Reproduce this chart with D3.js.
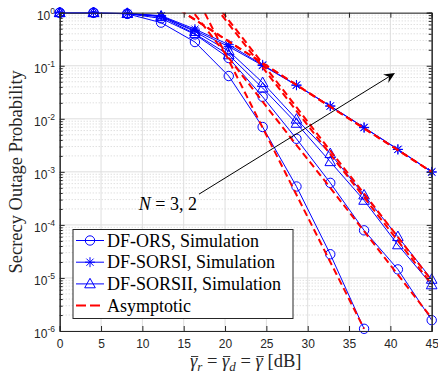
<!DOCTYPE html>
<html>
<head>
<meta charset="utf-8">
<script src="https://cdn.jsdelivr.net/npm/d3@7"></script>
<style>
  body { margin: 0; background: #fff; }
  svg { display: block; }
</style>
</head>
<body>
<script>
// average SNR points (dB) where the simulation was run
var snr = [0, 4.09, 8.18, 12.27, 16.36, 20.45, 24.55, 28.64, 32.73, 36.82, 40.91, 45];

// simulation
var orsN3    = [1, 1, 0.95, 0.65, 0.28, 0.064, 0.007, 5.3e-4, 2.8e-5, 1.1e-6];
var orsN2    = [1, 1, 0.96, 0.78, 0.39, 0.14, 0.026, 4.2e-3, 6.2e-4, 7.9e-5, 1.45e-5, 1.6e-6];
var sorsIN3  = [1, 1, 0.96, 0.86, 0.46, 0.23, 0.101, 0.0428, 0.0173, 0.0068, 0.00264, 0.00099];
var sorsIN2  = [1, 1, 0.97, 0.88, 0.49, 0.25, 0.104, 0.0434, 0.0175, 0.0069, 0.00266, 0.001];
var sorsIIN3 = [1, 1, 0.96, 0.84, 0.40, 0.16, 0.038, 0.0082, 0.00155, 2.9e-4, 4.2e-5, 7.4e-6];
var sorsIIN2 = [1, 1, 0.97, 0.86, 0.44, 0.19, 0.048, 0.0098, 0.0022, 3.65e-4, 6.0e-5, 9.4e-6];

// asymptotic curves (null = not plotted)
var asymOrsN3    = [null, null, null, null, 2.3, 0.126, 6.8e-3, 3.7e-4, 2.0e-5, 1.1e-6, null, null];
var asymOrsN2    = [null, null, null, 6.2, 0.93, 0.14, 0.021, 3.2e-3, 5.0e-4, 7.6e-5, 1.15e-5, 1.74e-6];
var asymSorsIN3  = [null, null, null, 1.89, 0.74, 0.287, 0.112, 0.0435, 0.0169, 6.6e-3, 2.57e-3, 1.0e-3];
var asymSorsIN2  = [null, null, null, 1.89, 0.74, 0.287, 0.112, 0.0435, 0.0169, 6.6e-3, 2.57e-3, 1.0e-3];
var asymSorsIIN3 = [null, null, null, null, 4.1, 0.61, 0.093, 0.0141, 2.15e-3, 3.3e-4, 5.0e-5, 7.6e-6];
var asymSorsIIN2 = [null, null, null, null, 4.8, 0.72, 0.11, 0.0166, 2.5e-3, 3.9e-4, 5.9e-5, 8.9e-6];

var xTicks = [0, 5, 10, 15, 20, 25, 30, 35, 40, 45];
var yExps = [0, -1, -2, -3, -4, -5, -6];
var legendLabels = ["DF-ORS, Simulation", "DF-SORSI, Simulation", "DF-SORSII, Simulation", "Asymptotic"];

// annotation "N = 3, 2" with arrow, in data units
var arrowFrom = [16.85, 3.8e-4];
var arrowTo = [40.56, 0.073];
var noteAt = [16.6, 1.9e-4];

var W = 438, H = 378;
var L = 59.7, R = 431.7, T = 12.7, B = 331;
var axisCol = "#262626", gridCol = "#dedede";
var blue = "#0000ff", red = "#ff0000";
var serif = "'Liberation Serif', 'Times New Roman', serif";
var sans = "'Liberation Sans', Arial, sans-serif";

var x = d3.scaleLinear().domain([0, 45]).range([L, R]);
var y = d3.scaleLog().domain([1e-6, 1]).range([B, T]);

var svg = d3.select("body").append("svg").attr("width", W).attr("height", H);
svg.append("rect").attr("width", W).attr("height", H).attr("fill", "#fff");

svg.append("clipPath").attr("id", "clip")
  .append("rect").attr("x", L).attr("y", T).attr("width", R - L).attr("height", B - T);

// grid
var minorVals = [];
yExps.forEach(function(e) {
  if (e == 0) return;
  for (var k = 2; k <= 9; k++) minorVals.push(k * Math.pow(10, e));
});
var grid = svg.append("g");
grid.selectAll(".ymin").data(minorVals).enter().append("line")
  .attr("x1", L).attr("x2", R)
  .attr("y1", function(d) { return y(d); }).attr("y2", function(d) { return y(d); })
  .attr("stroke", "#d2d2d2").attr("stroke-width", 1).attr("stroke-dasharray", "1,2");
grid.selectAll(".ymaj").data(yExps).enter().append("line")
  .attr("x1", L).attr("x2", R)
  .attr("y1", function(d) { return y(Math.pow(10, d)); }).attr("y2", function(d) { return y(Math.pow(10, d)); })
  .attr("stroke", gridCol).attr("stroke-width", 1);
grid.selectAll(".xmaj").data(xTicks).enter().append("line")
  .attr("y1", T).attr("y2", B)
  .attr("x1", function(d) { return x(d); }).attr("x2", function(d) { return x(d); })
  .attr("stroke", gridCol).attr("stroke-width", 1);

// data
function pts(vals) {
  return vals.map(function(v, i) { return [snr[i], v]; });
}
var line = d3.line()
  .defined(function(d) { return d[1] != null; })
  .x(function(d) { return x(d[0]); })
  .y(function(d) { return y(d[1]); });

var sims = [
  { vals: orsN3, mk: "o" }, { vals: orsN2, mk: "o" },
  { vals: sorsIN3, mk: "*" }, { vals: sorsIN2, mk: "*" },
  { vals: sorsIIN3, mk: "^" }, { vals: sorsIIN2, mk: "^" }
];
var asyms = [asymOrsN3, asymOrsN2, asymSorsIN3, asymSorsIN2, asymSorsIIN3, asymSorsIIN2];

function drawMarker(g, mk, cx, cy) {
  if (mk == "o") {
    g.append("circle").attr("cx", cx).attr("cy", cy).attr("r", 4.7)
      .attr("fill", "none").attr("stroke", blue).attr("stroke-width", 1);
  } else if (mk == "^") {
    g.append("path")
      .attr("d", "M" + cx + "," + (cy - 5.6) + "L" + (cx + 5.3) + "," + (cy + 3.9) + "L" + (cx - 5.3) + "," + (cy + 3.9) + "Z")
      .attr("fill", "none").attr("stroke", blue).attr("stroke-width", 1);
  } else {
    var s = 5, q = 3.6;
    g.append("path")
      .attr("d", "M" + (cx - s) + "," + cy + "H" + (cx + s) +
        "M" + cx + "," + (cy - s) + "V" + (cy + s) +
        "M" + (cx - q) + "," + (cy - q) + "L" + (cx + q) + "," + (cy + q) +
        "M" + (cx - q) + "," + (cy + q) + "L" + (cx + q) + "," + (cy - q))
      .attr("fill", "none").attr("stroke", blue).attr("stroke-width", 1);
  }
}

var plot = svg.append("g");
sims.forEach(function(s) {
  plot.append("path").datum(pts(s.vals)).attr("d", line)
    .attr("clip-path", "url(#clip)")
    .attr("fill", "none").attr("stroke", blue).attr("stroke-width", 1);
});
sims.forEach(function(s) {
  var g = plot.append("g");
  s.vals.forEach(function(v, i) { drawMarker(g, s.mk, x(snr[i]), y(v)); });
});
asyms.forEach(function(a) {
  plot.append("path").datum(pts(a)).attr("d", line)
    .attr("clip-path", "url(#clip)")
    .attr("fill", "none").attr("stroke", red).attr("stroke-width", 2)
    .attr("stroke-dasharray", "7,4");
});

// axes box and ticks
var ax = svg.append("g").attr("font-family", sans).attr("font-size", 12);
ax.append("g").attr("transform", "translate(0," + B + ")")
  .call(d3.axisBottom(x).tickValues(xTicks).tickSize(-5).tickPadding(8).tickFormat(d3.format("d")));
ax.append("g").attr("transform", "translate(0," + T + ")")
  .call(d3.axisTop(x).tickValues(xTicks).tickSize(-5).tickFormat(""));
ax.append("g").attr("transform", "translate(" + L + ",0)")
  .call(d3.axisLeft(y).tickValues(minorVals).tickSize(-3).tickFormat(""));
ax.append("g").attr("transform", "translate(" + R + ",0)")
  .call(d3.axisRight(y).tickValues(minorVals).tickSize(-3).tickFormat(""));
ax.append("g").attr("transform", "translate(" + R + ",0)")
  .call(d3.axisRight(y).tickValues(yExps.map(function(e) { return Math.pow(10, e); })).tickSize(-5).tickFormat(""));
var yl = ax.append("g").attr("transform", "translate(" + L + ",0)")
  .call(d3.axisLeft(y).tickValues(yExps.map(function(e) { return Math.pow(10, e); })).tickSize(-5).tickFormat(""));
ax.selectAll(".domain").attr("stroke", axisCol);
ax.selectAll(".tick line").attr("stroke", axisCol);
ax.selectAll(".tick text").attr("fill", axisCol).attr("font-family", sans).attr("font-size", 12);

// y tick labels 10^e
yExps.forEach(function(e) {
  var t = svg.append("text").attr("x", 55).attr("y", y(Math.pow(10, e)) + 7)
    .attr("text-anchor", "end").attr("font-family", sans).attr("font-size", 12).attr("fill", axisCol);
  t.append("tspan").text("10");
  t.append("tspan").attr("font-size", 8.5).attr("dy", -6).text(e == 0 ? "0" : "-" + (-e));
});

// y label
svg.append("text")
  .attr("transform", "translate(22," + ((T + B) / 2) + ") rotate(-90)")
  .attr("text-anchor", "middle").attr("font-family", serif).attr("font-size", 18.5)
  .attr("fill", axisCol).text("Secrecy Outage Probability");

// x label: gamma_r bar = gamma_d bar = gamma bar [dB]
var pieces = [
  { t: "\u03b3", it: true, bar: true }, { t: "r", it: true, sub: true }, { t: " = " },
  { t: "\u03b3", it: true, bar: true }, { t: "d", it: true, sub: true }, { t: " = " },
  { t: "\u03b3", it: true, bar: true }, { t: " [dB]" }
];
var xl = svg.append("g").attr("fill", axisCol);
var cx = 0, base = 367, fs = 18.5;
pieces.forEach(function(p) {
  var t = xl.append("text").attr("x", cx).attr("y", p.sub ? base + 4 : base)
    .attr("font-family", serif).attr("font-size", p.sub ? 13 : fs)
    .attr("font-style", p.it ? "italic" : "normal")
    .attr("xml:space", "preserve").style("white-space", "pre").text(p.t);
  var w = t.node().getComputedTextLength();
  if (p.bar) {
    xl.append("line").attr("x1", cx + 1).attr("x2", cx + w + 1)
      .attr("y1", base - 10.5).attr("y2", base - 10.5)
      .attr("stroke", axisCol).attr("stroke-width", 0.9);
  }
  cx += w;
});
xl.attr("transform", "translate(" + ((L + R) / 2 - cx / 2) + ",0)");

// annotation
var ann = svg.append("g");
var ax0 = x(arrowFrom[0]), ay0 = y(arrowFrom[1]), ax1 = x(arrowTo[0]), ay1 = y(arrowTo[1]);
var ang = Math.atan2(ay1 - ay0, ax1 - ax0);
ann.append("line").attr("x1", ax0).attr("y1", ay0)
  .attr("x2", ax1 - 6 * Math.cos(ang)).attr("y2", ay1 - 6 * Math.sin(ang))
  .attr("stroke", "#000").attr("stroke-width", 1);
function rot(px, py) {
  return [ax1 + px * Math.cos(ang) - py * Math.sin(ang), ay1 + px * Math.sin(ang) + py * Math.cos(ang)];
}
var head = [rot(0, 0), rot(-11, -5), rot(-7, 0), rot(-11, 5)];
ann.append("path").attr("d", "M" + head.join("L") + "Z").attr("fill", "#000");
var note = ann.append("text").attr("x", x(noteAt[0])).attr("y", y(noteAt[1]))
  .attr("text-anchor", "end").attr("font-family", serif).attr("font-size", 18).attr("fill", "#000");
note.append("tspan").attr("font-style", "italic").text("N");
note.append("tspan").attr("xml:space", "preserve").style("white-space", "pre").text(" = 3, 2");

// legend
var lg = svg.append("g");
lg.append("rect").attr("x", 73).attr("y", 229.5).attr("width", 220).attr("height", 89)
  .attr("fill", "#fff").attr("stroke", axisCol).attr("stroke-width", 1);
var legMk = ["o", "*", "^", null];
legendLabels.forEach(function(lab, i) {
  var ry = 240.5 + i * 21.7;
  if (legMk[i]) {
    lg.append("line").attr("x1", 76).attr("x2", 104).attr("y1", ry).attr("y2", ry)
      .attr("stroke", blue).attr("stroke-width", 1);
    drawMarker(lg, legMk[i], 90, ry);
  } else {
    lg.append("line").attr("x1", 76).attr("x2", 101).attr("y1", ry).attr("y2", ry)
      .attr("stroke", red).attr("stroke-width", 2).attr("stroke-dasharray", "10,4");
  }
  lg.append("text").attr("x", 107).attr("y", ry + 6).attr("font-family", serif)
    .attr("font-size", 18).attr("fill", "#000").text(lab);
});
</script>
</body>
</html>
